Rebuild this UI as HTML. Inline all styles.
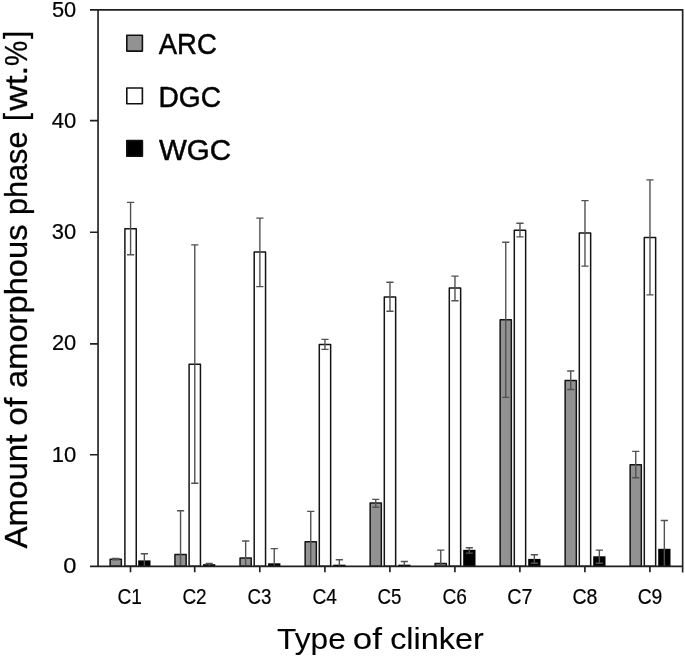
<!DOCTYPE html>
<html lang="en"><head><meta charset="utf-8"><title>Amount of amorphous phase by type of clinker</title>
<style>html,body{margin:0;padding:0;background:#fff}svg{display:block}text{font-family:"Liberation Sans", sans-serif;fill:#000;stroke:#000;stroke-linejoin:round}</style>
</head><body>
<svg width="685" height="659" viewBox="0 0 685 659">
<rect x="0" y="0" width="685" height="659" fill="#fff"/>
<g stroke-linejoin="round">
<rect x="110.15" y="559.2" width="11.2" height="7" fill="#929292" stroke="#141414" stroke-width="1.5"/>
<path d="M115.75 558.5V559.9 M112.15 558.5H119.35 M112.15 559.9H119.35" fill="none" stroke="#525252" stroke-width="1.4"/>
<rect x="124.9" y="228.8" width="11.35" height="337.4" fill="#fff" stroke="#141414" stroke-width="1.5"/>
<path d="M130.58 202.4V254.8 M126.98 202.4H134.18 M126.98 254.8H134.18" fill="none" stroke="#525252" stroke-width="1.4"/>
<rect x="138.2" y="560.4" width="12.3" height="6" fill="#000"/>
<path d="M144.35 553.7V566.4 M140.75 553.7H147.95" fill="none" stroke="#525252" stroke-width="1.4"/>
<rect x="174.95" y="554.4" width="11.2" height="11.8" fill="#929292" stroke="#141414" stroke-width="1.5"/>
<path d="M180.55 510.8V566.4 M176.95 510.8H184.15" fill="none" stroke="#525252" stroke-width="1.4"/>
<rect x="189.1" y="364.3" width="11.35" height="201.9" fill="#fff" stroke="#141414" stroke-width="1.5"/>
<path d="M194.78 244.9V483.3 M191.18 244.9H198.38 M191.18 483.3H198.38" fill="none" stroke="#525252" stroke-width="1.4"/>
<rect x="203" y="564.2" width="12.3" height="2.2" fill="#000"/>
<path d="M209.15 563.5V566.4 M205.55 563.5H212.75" fill="none" stroke="#525252" stroke-width="1.4"/>
<rect x="240.05" y="558" width="11.2" height="8.2" fill="#929292" stroke="#141414" stroke-width="1.5"/>
<path d="M245.65 541V566.4 M242.05 541H249.25" fill="none" stroke="#525252" stroke-width="1.4"/>
<rect x="254.2" y="252.1" width="11.35" height="314.1" fill="#fff" stroke="#141414" stroke-width="1.5"/>
<path d="M259.88 218.1V286.6 M256.27 218.1H263.48 M256.27 286.6H263.48" fill="none" stroke="#525252" stroke-width="1.4"/>
<rect x="268.1" y="563.3" width="12.3" height="3.1" fill="#000"/>
<path d="M274.25 548.6V566.4 M270.65 548.6H277.85" fill="none" stroke="#525252" stroke-width="1.4"/>
<rect x="305.15" y="541.8" width="11.2" height="24.4" fill="#929292" stroke="#141414" stroke-width="1.5"/>
<path d="M310.75 511.4V566.4 M307.15 511.4H314.35" fill="none" stroke="#525252" stroke-width="1.4"/>
<rect x="319.3" y="344.4" width="11.35" height="221.8" fill="#fff" stroke="#141414" stroke-width="1.5"/>
<path d="M324.97 339.4V349.4 M321.37 339.4H328.57 M321.37 349.4H328.57" fill="none" stroke="#525252" stroke-width="1.4"/>
<rect x="333.2" y="564.7" width="12.3" height="1.7" fill="#000"/>
<path d="M339.35 559.8V566.4 M335.75 559.8H342.95" fill="none" stroke="#525252" stroke-width="1.4"/>
<rect x="370.15" y="503.1" width="11.2" height="63.1" fill="#929292" stroke="#141414" stroke-width="1.5"/>
<path d="M375.75 499.4V507.3 M372.15 499.4H379.35 M372.15 507.3H379.35" fill="none" stroke="#525252" stroke-width="1.4"/>
<rect x="384.3" y="297.1" width="11.35" height="269.1" fill="#fff" stroke="#141414" stroke-width="1.5"/>
<path d="M389.97 282.3V311.3 M386.37 282.3H393.57 M386.37 311.3H393.57" fill="none" stroke="#525252" stroke-width="1.4"/>
<rect x="398.2" y="564.7" width="12.3" height="1.7" fill="#000"/>
<path d="M404.35 561.5V566.4 M400.75 561.5H407.95" fill="none" stroke="#525252" stroke-width="1.4"/>
<rect x="435.15" y="563.5" width="11.2" height="2.7" fill="#929292" stroke="#141414" stroke-width="1.5"/>
<path d="M440.75 550.1V566.4 M437.15 550.1H444.35" fill="none" stroke="#525252" stroke-width="1.4"/>
<rect x="449.3" y="288" width="11.35" height="278.2" fill="#fff" stroke="#141414" stroke-width="1.5"/>
<path d="M454.97 276.1V300.7 M451.37 276.1H458.57 M451.37 300.7H458.57" fill="none" stroke="#525252" stroke-width="1.4"/>
<rect x="463.2" y="549.8" width="12.3" height="16.6" fill="#000"/>
<path d="M469.35 547.8V553.1 M465.75 547.8H472.95 M465.75 553.1H472.95" fill="none" stroke="#525252" stroke-width="1.4"/>
<rect x="500.15" y="319.7" width="11.2" height="246.5" fill="#929292" stroke="#141414" stroke-width="1.5"/>
<path d="M505.75 242.2V397.4 M502.15 242.2H509.35 M502.15 397.4H509.35" fill="none" stroke="#525252" stroke-width="1.4"/>
<rect x="514.3" y="230.3" width="11.35" height="335.9" fill="#fff" stroke="#141414" stroke-width="1.5"/>
<path d="M519.97 223.3V236.9 M516.37 223.3H523.57 M516.37 236.9H523.57" fill="none" stroke="#525252" stroke-width="1.4"/>
<rect x="528.2" y="558.9" width="12.3" height="7.5" fill="#000"/>
<path d="M534.35 554.8V563.2 M530.75 554.8H537.95 M530.75 563.2H537.95" fill="none" stroke="#525252" stroke-width="1.4"/>
<rect x="565.15" y="380.4" width="11.2" height="185.8" fill="#929292" stroke="#141414" stroke-width="1.5"/>
<path d="M570.75 371V389.5 M567.15 371H574.35 M567.15 389.5H574.35" fill="none" stroke="#525252" stroke-width="1.4"/>
<rect x="579.3" y="232.9" width="11.35" height="333.3" fill="#fff" stroke="#141414" stroke-width="1.5"/>
<path d="M584.97 200.6V266.1 M581.37 200.6H588.57 M581.37 266.1H588.57" fill="none" stroke="#525252" stroke-width="1.4"/>
<rect x="593.2" y="556.3" width="12.3" height="10.1" fill="#000"/>
<path d="M599.35 550.1V563.2 M595.75 550.1H602.95 M595.75 563.2H602.95" fill="none" stroke="#525252" stroke-width="1.4"/>
<rect x="630.15" y="464.8" width="11.2" height="101.4" fill="#929292" stroke="#141414" stroke-width="1.5"/>
<path d="M635.75 451.4V477.7 M632.15 451.4H639.35 M632.15 477.7H639.35" fill="none" stroke="#525252" stroke-width="1.4"/>
<rect x="644.3" y="237.5" width="11.35" height="328.7" fill="#fff" stroke="#141414" stroke-width="1.5"/>
<path d="M649.97 179.9V294.9 M646.37 179.9H653.57 M646.37 294.9H653.57" fill="none" stroke="#525252" stroke-width="1.4"/>
<rect x="658.2" y="548.8" width="12.3" height="17.6" fill="#000"/>
<path d="M664.35 520.5V566.4 M660.75 520.5H667.95" fill="none" stroke="#525252" stroke-width="1.4"/>
</g>
<g fill="none" stroke="#202020" stroke-width="1.65">
<path d="M90 9.85 H682.65 V572.4"/>
<path d="M98.05 9.85 V566.4"/>
<path d="M90 566.4 H682.65"/>
<path d="M90 120.6 H98.05 M90 232.2 H98.05 M90 343.8 H98.05 M90 454.7 H98.05 M130.5 566.4 V572.2 M194.7 566.4 V572.2 M259.8 566.4 V572.2 M324.9 566.4 V572.2 M389.9 566.4 V572.2 M454.9 566.4 V572.2 M519.9 566.4 V572.2 M584.9 566.4 V572.2 M649.9 566.4 V572.2"/>
</g>
<text x="51.95" y="16.8" font-size="21.3" stroke-width="0.2" textLength="24.29" lengthAdjust="spacingAndGlyphs">50</text>
<text x="51.7" y="127.5" font-size="21.3" stroke-width="0.2" textLength="24.52" lengthAdjust="spacingAndGlyphs">40</text>
<text x="51.85" y="239" font-size="21.3" stroke-width="0.2" textLength="24.39" lengthAdjust="spacingAndGlyphs">30</text>
<text x="51.9" y="349.8" font-size="21.3" stroke-width="0.2" textLength="24.35" lengthAdjust="spacingAndGlyphs">20</text>
<text x="51.77" y="461.6" font-size="21.3" stroke-width="0.2" textLength="24.51" lengthAdjust="spacingAndGlyphs">10</text>
<text x="63.32" y="573.3" font-size="21.3" stroke-width="0.2" textLength="13.19" lengthAdjust="spacingAndGlyphs">0</text>
<text x="117.51" y="603.8" font-size="21.3" stroke-width="0.2" textLength="24.45" lengthAdjust="spacingAndGlyphs">C1</text>
<text x="182.47" y="603.8" font-size="21.3" stroke-width="0.2" textLength="24.17" lengthAdjust="spacingAndGlyphs">C2</text>
<text x="247.57" y="603.8" font-size="21.3" stroke-width="0.2" textLength="23.91" lengthAdjust="spacingAndGlyphs">C3</text>
<text x="312.4" y="603.8" font-size="21.3" stroke-width="0.2" textLength="24.45" lengthAdjust="spacingAndGlyphs">C4</text>
<text x="377.43" y="603.8" font-size="21.3" stroke-width="0.2" textLength="23.92" lengthAdjust="spacingAndGlyphs">C5</text>
<text x="442.4" y="603.8" font-size="21.3" stroke-width="0.2" textLength="24.45" lengthAdjust="spacingAndGlyphs">C6</text>
<text x="507.37" y="603.8" font-size="21.3" stroke-width="0.2" textLength="25.25" lengthAdjust="spacingAndGlyphs">C7</text>
<text x="572.38" y="603.8" font-size="21.3" stroke-width="0.2" textLength="24.99" lengthAdjust="spacingAndGlyphs">C8</text>
<text x="637.64" y="603.8" font-size="21.3" stroke-width="0.2" textLength="24.72" lengthAdjust="spacingAndGlyphs">C9</text>
<text x="158.75" y="53.9" font-size="30" stroke-width="0.5" textLength="58" lengthAdjust="spacingAndGlyphs">ARC</text>
<text x="158.56" y="107.4" font-size="30" stroke-width="0.5" textLength="62.42" lengthAdjust="spacingAndGlyphs">DGC</text>
<text x="158.89" y="159.5" font-size="30" stroke-width="0.5" textLength="72.09" lengthAdjust="spacingAndGlyphs">WGC</text>
<text y="649.2" font-size="29.2" stroke-width="0.1"><tspan x="277.14" textLength="68.61" lengthAdjust="spacingAndGlyphs">Type</tspan> <tspan x="352.73" textLength="29.14" lengthAdjust="spacingAndGlyphs">of</tspan> <tspan x="390.15" textLength="93.75" lengthAdjust="spacingAndGlyphs">clinker</tspan></text>
<text transform="translate(27 0) rotate(-90)" font-size="32.2" stroke-width="0.3"><tspan x="-548.6" y="0" textLength="114" lengthAdjust="spacingAndGlyphs">Amount</tspan> <tspan x="-425.82" y="0" textLength="28.2" lengthAdjust="spacingAndGlyphs">of</tspan> <tspan x="-387.95" y="0" textLength="163.46" lengthAdjust="spacingAndGlyphs">amorphous</tspan> <tspan x="-215.08" y="0" textLength="83.55" lengthAdjust="spacingAndGlyphs">phase</tspan> <tspan x="-121" y="-1.1" textLength="8.01" lengthAdjust="spacingAndGlyphs">[</tspan><tspan x="-110.86" y="0" textLength="45.32" lengthAdjust="spacingAndGlyphs">wt.</tspan><tspan x="-65.95" y="0" textLength="25.24" lengthAdjust="spacingAndGlyphs">%</tspan><tspan x="-39" y="-1.1" textLength="8.13" lengthAdjust="spacingAndGlyphs">]</tspan></text>
<rect x="126.8" y="35.3" width="15.6" height="15.8" fill="#929292" stroke="#111" stroke-width="1.6" stroke-linejoin="round"/>
<rect x="126.8" y="88" width="15.6" height="15.7" fill="#fff" stroke="#111" stroke-width="1.6" stroke-linejoin="round"/>
<rect x="126.8" y="140.6" width="15.6" height="15.6" fill="#000" stroke="#111" stroke-width="1.6" stroke-linejoin="round"/>
</svg>
</body></html>
